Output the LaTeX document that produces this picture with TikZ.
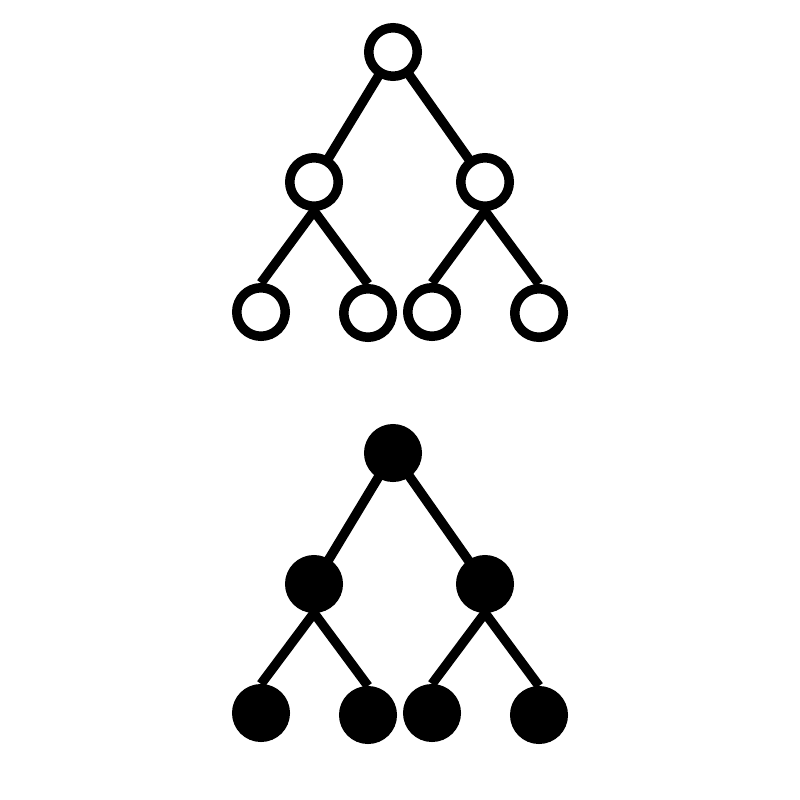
\documentclass[tikz,border=0pt]{standalone}
\usetikzlibrary{backgrounds}
\begin{document}
\begin{tikzpicture}[x=1pt,y=-1pt,
  ring/.style={circle,draw=black,fill=white,line width=9.5pt,minimum size=48.5pt,inner sep=0pt},
  dot/.style={circle,draw=black,fill=black,line width=9.5pt,minimum size=48.5pt,inner sep=0pt},
  edge/.style={draw=black,line width=9.5pt}]
\useasboundingbox (0,0) rectangle (800,800);
% top tree (outline)
\node[ring] (r) at (393,52) {};
\node[ring] (a) at (314,182) {};
\node[ring] (b) at (485,182) {};
\node[ring] (a1) at (261,312) {};
\node[ring] (a2) at (368,313) {};
\node[ring] (b1) at (432,312) {};
\node[ring] (b2) at (539,313) {};
% bottom tree (filled)
\node[dot] (R) at (393,453) {};
\node[dot] (A) at (314,584) {};
\node[dot] (B) at (485,584) {};
\node[dot] (A1) at (261,713) {};
\node[dot] (A2) at (368,715) {};
\node[dot] (B1) at (432,713) {};
\node[dot] (B2) at (539,715) {};
\begin{scope}[on background layer]
\fill[white] (0,0) rectangle (800,800);
\path[edge] (r.center) -- (a.center) (r.center) -- (b.center)
  (a.south) -- (a1.north) (a.south) -- (a2.north)
  (b.south) -- (b1.north) (b.south) -- (b2.north);
\path[edge] (R.center) -- (A.center) (R.center) -- (B.center)
  (A.south) -- (A1.north) (A.south) -- (A2.north)
  (B.south) -- (B1.north) (B.south) -- (B2.north);
\end{scope}
\end{tikzpicture}
\end{document}
